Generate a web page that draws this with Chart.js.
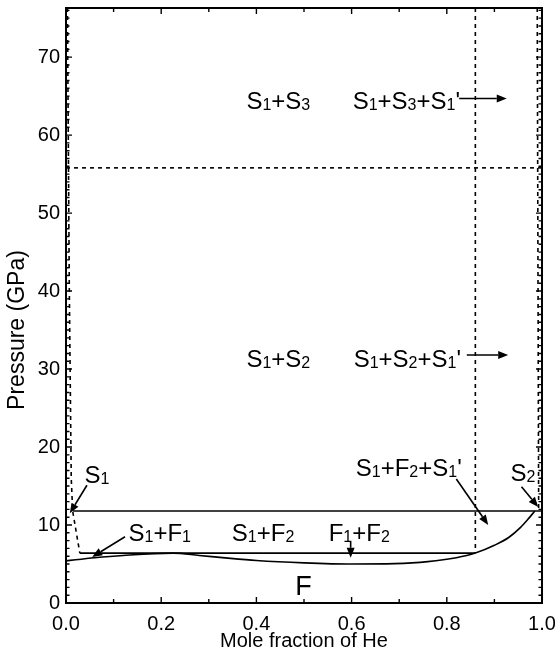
<!DOCTYPE html>
<html><head><meta charset="utf-8">
<script src="https://cdn.jsdelivr.net/npm/chart.js@4/dist/chart.umd.min.js"></script>
<style>html,body{margin:0;padding:0;background:#fff;}#wrap{width:555px;height:656px;position:relative;}canvas{display:block;}</style>
</head><body><div id="wrap"><canvas id="c" width="555" height="656" style="width:555px;height:656px"></canvas></div>
<script>
// ---- data (mole fraction of He, pressure in GPa) ----
const curveX = [0, 0.06, 0.12, 0.225, 0.28, 0.34, 0.40, 0.50, 0.60, 0.69, 0.76, 0.82, 0.86, 0.90, 0.93, 0.955, 0.97, 0.985];
const curveP = [5.4, 5.8, 6.1, 6.4, 6.1, 5.75, 5.45, 5.15, 5.0, 5.05, 5.3, 5.8, 6.4, 7.4, 8.4, 9.7, 10.7, 11.8];
const upperTieX = [0.015, 1.0];
const upperTieP = [11.8, 11.8];
const lowerTieX = [0.029, 0.86];
const lowerTieP = [6.4, 6.4];
const leftBoundX = [0.003, 0.007, 0.011, 0.014, 0.029];
const leftBoundP = [76.3, 40, 16, 11.8, 6.4];
const rightBoundX = [0.99, 0.993];
const rightBoundP = [76.3, 11.8];
const primeBoundX = [0.86, 0.86];
const primeBoundP = [76.3, 6.4];
const transX = [0, 1];
const transP = [55.8, 55.8];

const xTickLabels = [0, 0.2, 0.4, 0.6, 0.8, 1.0];
const yTickLabels = [0, 10, 20, 30, 40, 50, 60, 70];
const xTitle = 'Mole fraction of He';
const yTitle = 'Pressure (GPa)';

const labelTexts = ["S_1+S_3", "S_1+S_3+S_1'", "S_1+S_2", "S_1+S_2+S_1'", "S_1+F_2+S_1'", "S_1", "S_2", "S_1+F_1", "S_1+F_2", "F_1+F_2", "F"];
const labelX = [0.446, 0.715, 0.446, 0.717, 0.72, 0.065, 0.96, 0.197, 0.414, 0.616, 0.499];
const labelP = [64.5, 64.5, 31.4, 31.4, 17.4, 16.5, 16.7, 9.0, 9.0, 9.0, 2.3];

const arrowFromX = [0.044, 0.124, 0.598, 0.82, 0.957, 0.842, 0.826];
const arrowFromP = [15.1, 8.5, 7.85, 15.9, 14.9, 31.8, 64.7];
const arrowToX = [0.008, 0.055, 0.598, 0.887, 0.992, 0.929, 0.926];
const arrowToP = [11.5, 5.9, 5.8, 10.0, 12.3, 31.8, 64.7];

// ---- chart ----
const FONT = "'Liberation Sans', Arial, Helvetica, sans-serif";
const pts = (xs, ps) => xs.map((x, i) => ({x: x, y: ps[i]}));
const lineDs = (xs, ps, dash, extra) => Object.assign({
  data: pts(xs, ps), showLine: true, pointRadius: 0, borderColor: '#000',
  borderWidth: 1.6, borderDash: dash || [], fill: false
}, extra || {});

const decorPlugin = {
  id: 'decor',
  afterDraw(chart) {
    const ctx = chart.ctx, xs = chart.scales.x, ys = chart.scales.y, a = chart.chartArea;
    ctx.save();
    ctx.strokeStyle = '#000';
    ctx.fillStyle = '#000';
    // frame
    ctx.lineWidth = 2;
    ctx.strokeRect(a.left, a.top, a.right - a.left, a.bottom - a.top);
    // ticks (inward, all four sides)
    ctx.lineWidth = 1.4;
    ctx.beginPath();
    for (let i = 0; i <= 10; i++) {
      const px = xs.getPixelForValue(i / 10);
      const len = (i % 2 === 0) ? 6 : 4;
      ctx.moveTo(px, a.bottom); ctx.lineTo(px, a.bottom - len);
      ctx.moveTo(px, a.top); ctx.lineTo(px, a.top + len);
    }
    for (let v = 0; v <= ys.max; v += 1) {
      const py = ys.getPixelForValue(v);
      const len = (v % 10 === 0) ? 6 : 3.5;
      ctx.moveTo(a.left, py); ctx.lineTo(a.left + len, py);
      ctx.moveTo(a.right, py); ctx.lineTo(a.right - len, py);
    }
    ctx.stroke();
    // y-axis title
    ctx.save();
    ctx.translate(18, 330);
    ctx.rotate(-Math.PI / 2);
    ctx.font = '23px ' + FONT;
    ctx.textAlign = 'center';
    ctx.textBaseline = 'middle';
    ctx.fillText(yTitle, 0, 0);
    ctx.restore();
    // arrows
    ctx.lineWidth = 1.6;
    for (let i = 0; i < arrowFromX.length; i++) {
      const x1 = xs.getPixelForValue(arrowFromX[i]), y1 = ys.getPixelForValue(arrowFromP[i]);
      const x2 = xs.getPixelForValue(arrowToX[i]), y2 = ys.getPixelForValue(arrowToP[i]);
      const ang = Math.atan2(y2 - y1, x2 - x1), hl = 10, hw = 4;
      const bx = x2 - hl * Math.cos(ang), by = y2 - hl * Math.sin(ang);
      ctx.beginPath(); ctx.moveTo(x1, y1); ctx.lineTo(bx, by); ctx.stroke();
      ctx.beginPath();
      ctx.moveTo(x2, y2);
      ctx.lineTo(bx + hw * Math.sin(ang), by - hw * Math.cos(ang));
      ctx.lineTo(bx - hw * Math.sin(ang), by + hw * Math.cos(ang));
      ctx.closePath(); ctx.fill();
    }
    // labels with subscripts
    ctx.textBaseline = 'alphabetic';
    ctx.textAlign = 'left';
    for (let i = 0; i < labelTexts.length; i++) {
      const txt = labelTexts[i];
      const big = txt === 'F' ? 27 : 24, small = txt === 'F' ? 18 : 16;
      const parts = [];
      for (let k = 0; k < txt.length; k++) {
        if (txt[k] === '_') { parts.push({t: txt[k + 1], sub: true}); k++; }
        else parts.push({t: txt[k], sub: false});
      }
      let w = 0;
      parts.forEach(p => { ctx.font = (p.sub ? small : big) + 'px ' + FONT; p.w = ctx.measureText(p.t).width; w += p.w; });
      let x = xs.getPixelForValue(labelX[i]) - w / 2;
      const base = ys.getPixelForValue(labelP[i]) + big * 0.716 / 2;
      parts.forEach(p => {
        ctx.font = (p.sub ? small : big) + 'px ' + FONT;
        ctx.fillText(p.t, x, base + (p.sub ? 1 : 0));
        x += p.w;
      });
    }
    ctx.restore();
  }
};

const noPad = s => { s.paddingTop = 0; s.paddingBottom = 0; s.paddingLeft = 0; s.paddingRight = 0; };

new Chart(document.getElementById('c'), {
  type: 'scatter',
  data: {
    datasets: [
      lineDs(curveX, curveP, [], {cubicInterpolationMode: 'monotone'}),
      lineDs(upperTieX, upperTieP),
      lineDs(lowerTieX, lowerTieP),
      lineDs(leftBoundX, leftBoundP, [4, 4]),
      lineDs(rightBoundX, rightBoundP, [4, 4]),
      lineDs(primeBoundX, primeBoundP, [4, 4]),
      lineDs(transX, transP, [4, 4])
    ]
  },
  options: {
    responsive: false,
    maintainAspectRatio: false,
    animation: false,
    devicePixelRatio: 1,
    layout: {padding: {top: 8, right: 13, left: 0, bottom: 0}},
    plugins: {legend: {display: false}, tooltip: {enabled: false}},
    scales: {
      x: {
        type: 'linear', min: 0, max: 1,
        afterFit: s => { s.height = 53; noPad(s); },
        afterBuildTicks: s => { s.ticks = xTickLabels.map(v => ({value: v})); },
        grid: {display: false, drawTicks: false},
        border: {display: false},
        ticks: {padding: 9, color: '#000', font: {family: FONT, size: 20}, callback: v => Number(v).toFixed(1), maxRotation: 0, autoSkip: false},
        title: {display: true, text: xTitle, color: '#000', font: {family: FONT, size: 20}, padding: {top: 0, bottom: 3}}
      },
      y: {
        type: 'linear', min: 0, max: 76.3,
        afterFit: s => { s.width = 66; noPad(s); },
        afterBuildTicks: s => { s.ticks = yTickLabels.map(v => ({value: v})); },
        grid: {display: false, drawTicks: false},
        border: {display: false},
        ticks: {padding: 6, color: '#000', font: {family: FONT, size: 20}, autoSkip: false},
        title: {display: false}
      }
    }
  },
  plugins: [decorPlugin]
});
</script>
</body></html>
